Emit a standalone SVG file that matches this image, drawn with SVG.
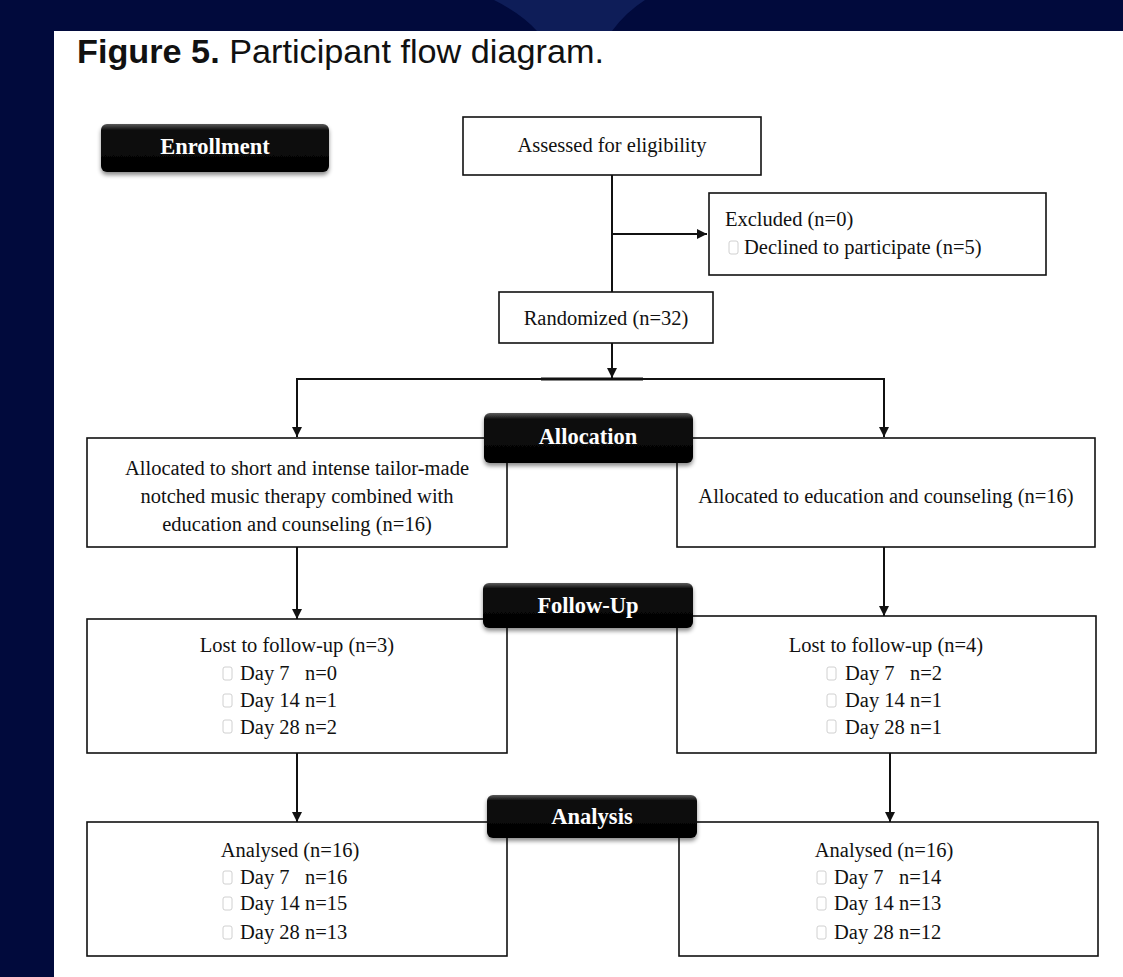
<svg xmlns="http://www.w3.org/2000/svg" width="1123" height="977" viewBox="0 0 1123 977">
<style>
.box{fill:#fff;stroke:#111;stroke-width:1.6}
.t{font-family:"Liberation Serif","Times New Roman",serif;font-size:20.5px;fill:#111}
.lb{font-family:"Liberation Serif","Times New Roman",serif;font-size:22.5px;font-weight:bold;fill:#fff}
.ln{fill:none;stroke:#111;stroke-width:2}
.cb{fill:#fff;stroke:#d0d0d0;stroke-width:1}
</style>
<defs>
<linearGradient id="lg" x1="0" y1="0" x2="0" y2="1">
<stop offset="0" stop-color="#5a5a5a"/>
<stop offset="0.12" stop-color="#111"/>
<stop offset="1" stop-color="#000"/>
</linearGradient>
<filter id="sh" x="-10%" y="-20%" width="120%" height="150%">
<feDropShadow dx="0" dy="3" stdDeviation="2" flood-color="#000" flood-opacity="0.45"/>
</filter>
<marker id="ar" viewBox="0 0 10 10" refX="10" refY="5" markerWidth="5" markerHeight="5" orient="auto" markerUnits="strokeWidth">
<path d="M0,0 L10,5 L0,10 Z" fill="#111"/>
</marker>
</defs>
<rect x="0" y="0" width="1123" height="977" fill="#010a3c"/>
<path d="M494,0 Q522,14 537,31 L612,31 Q626,12 645,0 Z" fill="#0e1d58"/>
<rect x="54" y="31" width="1069" height="946" fill="#fff"/>
<text x="77" y="63" font-family="'Liberation Sans',Arial,sans-serif" font-size="33" fill="#111" textLength="527" lengthAdjust="spacingAndGlyphs"><tspan font-weight="bold">Figure 5.</tspan> Participant flow diagram.</text>

<g id="connectors">
<line class="ln" x1="612" y1="175" x2="612" y2="292"/>
<line class="ln" x1="612" y1="234" x2="707" y2="234" marker-end="url(#ar)"/>
<line class="ln" x1="612" y1="343" x2="612" y2="378" marker-end="url(#ar)"/>
<polyline class="ln" points="297,437 297,379 884,379 884,437" />
<line x1="541" y1="379" x2="643" y2="379" stroke="#111" stroke-width="3"/>
<line class="ln" x1="297" y1="400" x2="297" y2="437" marker-end="url(#ar)"/>
<line class="ln" x1="884" y1="400" x2="884" y2="437" marker-end="url(#ar)"/>
<line class="ln" x1="297" y1="547" x2="297" y2="619" marker-end="url(#ar)"/>
<line class="ln" x1="884" y1="547" x2="884" y2="616" marker-end="url(#ar)"/>
<line class="ln" x1="297" y1="753" x2="297" y2="822" marker-end="url(#ar)"/>
<line class="ln" x1="890" y1="753" x2="890" y2="822" marker-end="url(#ar)"/>
</g>

<g id="enrollment">
<rect x="101" y="124" width="228" height="48" rx="6" fill="url(#lg)" filter="url(#sh)"/>
<text class="lb" x="215" y="154" text-anchor="middle">Enrollment</text>
</g>

<g id="assessed">
<rect class="box" x="463" y="117" width="298" height="58"/>
<text class="t" x="612" y="152" text-anchor="middle">Assessed for eligibility</text>
</g>

<g id="excluded">
<rect class="box" x="709" y="193" width="337" height="82"/>
<text class="t" x="725" y="226">Excluded (n=0)</text>
<rect class="cb" x="729" y="241" width="9" height="13" rx="2"/>
<text class="t" x="744" y="254">Declined to participate (n=5)</text>
</g>

<g id="randomized">
<rect class="box" x="499" y="292" width="214" height="51"/>
<text class="t" x="606" y="325" text-anchor="middle">Randomized (n=32)</text>
</g>

<g id="alloc-left">
<rect class="box" x="87" y="438" width="420" height="109"/>
<text class="t" x="297" y="475" text-anchor="middle">Allocated to short and intense tailor-made</text>
<text class="t" x="297" y="503" text-anchor="middle">notched music therapy combined with</text>
<text class="t" x="297" y="531" text-anchor="middle">education and counseling (n=16)</text>
</g>

<g id="alloc-right">
<rect class="box" x="677" y="438" width="418" height="109"/>
<text class="t" x="886" y="503" text-anchor="middle">Allocated to education and counseling (n=16)</text>
</g>

<g id="allocation">
<rect x="484" y="413" width="209" height="50" rx="6" fill="url(#lg)" filter="url(#sh)"/>
<text class="lb" x="588" y="444" text-anchor="middle">Allocation</text>
</g>

<g id="followup-left">
<rect class="box" x="87" y="619" width="420" height="134"/>
<text class="t" x="297" y="652" text-anchor="middle">Lost to follow-up (n=3)</text>
<rect class="cb" x="223" y="667" width="9" height="13" rx="2"/>
<text class="t" x="240" y="680" xml:space="preserve">Day 7   n=0</text>
<rect class="cb" x="223" y="694" width="9" height="13" rx="2"/>
<text class="t" x="240" y="707">Day 14 n=1</text>
<rect class="cb" x="223" y="720" width="9" height="13" rx="2"/>
<text class="t" x="240" y="734">Day 28 n=2</text>
</g>

<g id="followup-right">
<rect class="box" x="677" y="616" width="419" height="137"/>
<text class="t" x="886" y="652" text-anchor="middle">Lost to follow-up (n=4)</text>
<rect class="cb" x="827" y="667" width="9" height="13" rx="2"/>
<text class="t" x="845" y="680" xml:space="preserve">Day 7   n=2</text>
<rect class="cb" x="827" y="694" width="9" height="13" rx="2"/>
<text class="t" x="845" y="707">Day 14 n=1</text>
<rect class="cb" x="827" y="720" width="9" height="13" rx="2"/>
<text class="t" x="845" y="734">Day 28 n=1</text>
</g>

<g id="followup">
<rect x="483" y="583" width="210" height="45" rx="6" fill="url(#lg)" filter="url(#sh)"/>
<text class="lb" x="588" y="613" text-anchor="middle">Follow-Up</text>
</g>

<g id="analysis-left">
<rect class="box" x="87" y="822" width="420" height="134"/>
<text class="t" x="290" y="857" text-anchor="middle">Analysed (n=16)</text>
<rect class="cb" x="223" y="871" width="9" height="13" rx="2"/>
<text class="t" x="240" y="884" xml:space="preserve">Day 7   n=16</text>
<rect class="cb" x="223" y="897" width="9" height="13" rx="2"/>
<text class="t" x="240" y="910">Day 14 n=15</text>
<rect class="cb" x="223" y="926" width="9" height="13" rx="2"/>
<text class="t" x="240" y="939">Day 28 n=13</text>
</g>

<g id="analysis-right">
<rect class="box" x="679" y="822" width="419" height="134"/>
<text class="t" x="884" y="857" text-anchor="middle">Analysed (n=16)</text>
<rect class="cb" x="817" y="871" width="9" height="13" rx="2"/>
<text class="t" x="834" y="884" xml:space="preserve">Day 7   n=14</text>
<rect class="cb" x="817" y="897" width="9" height="13" rx="2"/>
<text class="t" x="834" y="910">Day 14 n=13</text>
<rect class="cb" x="817" y="926" width="9" height="13" rx="2"/>
<text class="t" x="834" y="939">Day 28 n=12</text>
</g>

<g id="analysis">
<rect x="487" y="795" width="210" height="43" rx="6" fill="url(#lg)" filter="url(#sh)"/>
<text class="lb" x="592" y="824" text-anchor="middle">Analysis</text>
</g>
</svg>
